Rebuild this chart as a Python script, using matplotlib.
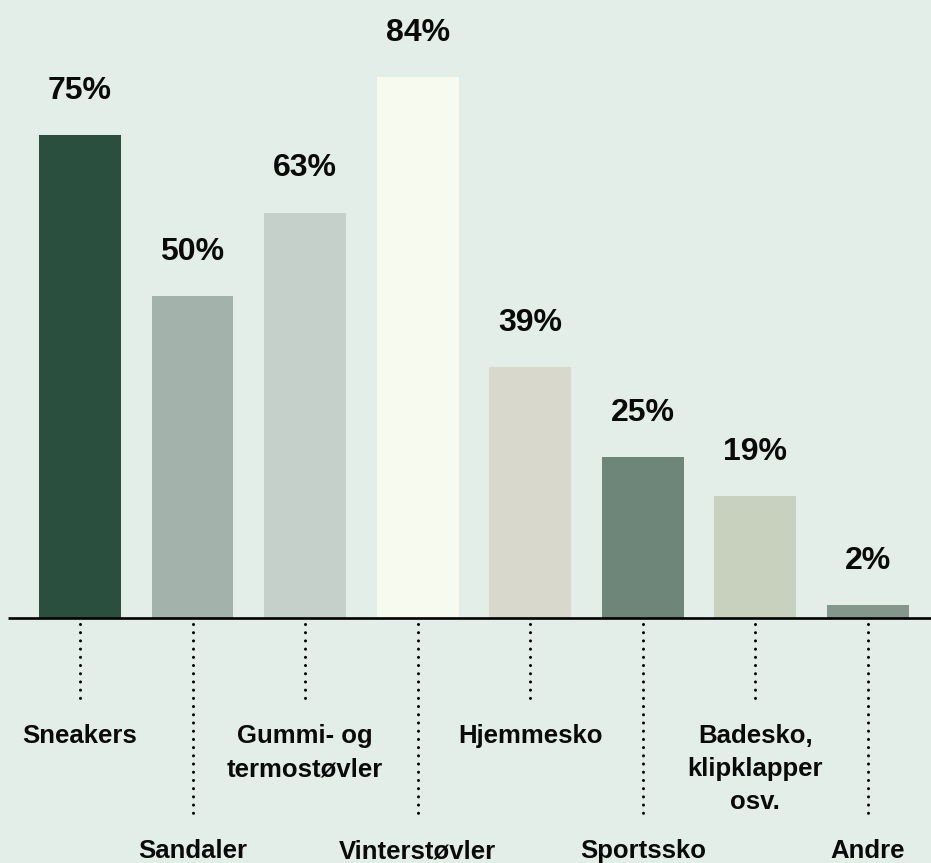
import matplotlib
matplotlib.use("Agg")
import matplotlib.pyplot as plt

plt.rcParams['font.family'] = ['Liberation Sans', 'DejaVu Sans']
plt.rcParams['lines.scale_dashes'] = False

categories = ["Sneakers", "Sandaler", "Gummi- og\ntermostøvler", "Vinterstøvler",
              "Hjemmesko", "Sportssko", "Badesko,\nklipklapper\nosv.", "Andre"]
values = [75, 50, 63, 84, 39, 25, 19, 2]
value_labels = ["75%", "50%", "63%", "84%", "39%", "25%", "19%", "2%"]
colors = ["#2a4f3e", "#a3b2aa", "#c6d0ca", "#f7faef", "#d8d9cc", "#6e867a", "#c8d1be", "#84978c"]
long_leader = [False, True, False, True, False, True, False, True]

BG = "#e4eee8"
fig = plt.figure(figsize=(9.31, 8.63), dpi=100, facecolor=BG)
ax = fig.add_axes([0, 0, 1, 1])
ax.set_facecolor(BG)
ax.set_xlim(-0.71, 7.56)
ax.set_ylim(-38.0, 96.0)
ax.axis('off')

x = list(range(len(values)))
ax.bar(x, values, width=0.728, color=colors, zorder=2)
ax.plot([-0.64, 7.56], [0, 0], color='black', lw=1.9, zorder=3, solid_capstyle='butt')

line_step = 5.12
for i, v in enumerate(values):
    ax.text(i, v + 5.6, value_labels[i], ha='center', va='baseline',
            fontsize=23, fontweight='bold', color='#0a0a0a')
    end = -30.3 if long_leader[i] else -12.4
    ax.plot([i, i], [-0.9, end], color='black', lw=2.2,
            dashes=(0.01, 5.9), dash_capstyle='round', zorder=3)
    ty = -37.3 if long_leader[i] else -19.4
    for k, line in enumerate(categories[i].split("\n")):
        ax.text(i, ty - k * line_step, line, ha='center', va='baseline',
                fontsize=18.5, fontweight='bold', color='#0a0a0a')

fig.savefig("out.png", dpi=100, facecolor=BG)
